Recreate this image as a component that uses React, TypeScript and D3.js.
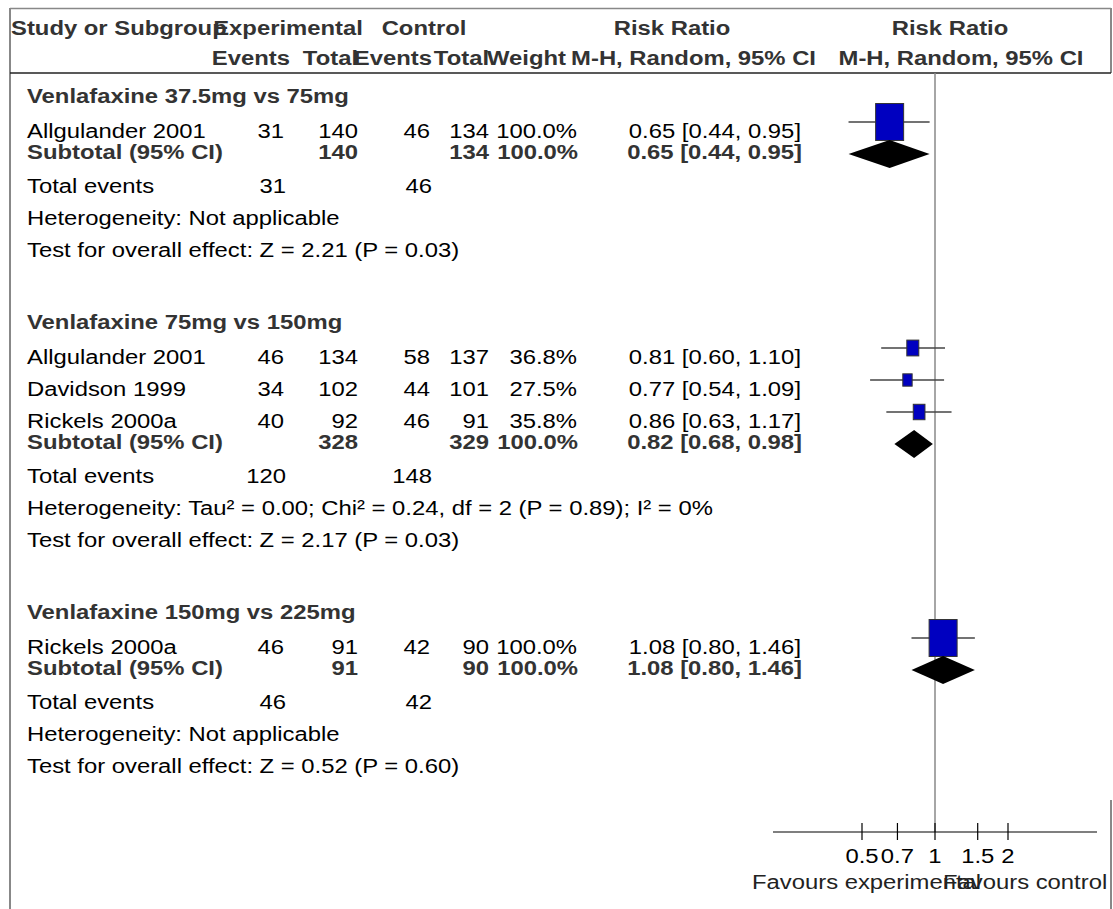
import React from "react";
import * as d3 from "d3";

// ---------- data ----------
const groupTitles = [
  "Venlafaxine 37.5mg vs 75mg",
  "Venlafaxine 75mg vs 150mg",
  "Venlafaxine 150mg vs 225mg",
];
const studyGroup = [0, 1, 1, 1, 2];
const studyNames = ["Allgulander 2001", "Allgulander 2001", "Davidson 1999", "Rickels 2000a", "Rickels 2000a"];
const expEvents = [31, 46, 34, 40, 46];
const expTotal = [140, 134, 102, 92, 91];
const ctrlEvents = [46, 58, 44, 46, 42];
const ctrlTotal = [134, 137, 101, 91, 90];
const studyWeight = [100.0, 36.8, 27.5, 35.8, 100.0];
const studyRR = [0.65, 0.81, 0.77, 0.86, 1.08];
const studyLow = [0.44, 0.6, 0.54, 0.63, 0.8];
const studyHigh = [0.95, 1.1, 1.09, 1.17, 1.46];

const subExpTotal = [140, 328, 91];
const subCtrlTotal = [134, 329, 90];
const subWeight = [100.0, 100.0, 100.0];
const subRR = [0.65, 0.82, 1.08];
const subLow = [0.44, 0.68, 0.8];
const subHigh = [0.95, 0.98, 1.46];
const totalExpEvents = [31, 120, 46];
const totalCtrlEvents = [46, 148, 42];
const heterogeneityTexts = [
  "Heterogeneity: Not applicable",
  "Heterogeneity: Tau² = 0.00; Chi² = 0.24, df = 2 (P = 0.89); I² = 0%",
  "Heterogeneity: Not applicable",
];
const overallTexts = [
  "Test for overall effect: Z = 2.21 (P = 0.03)",
  "Test for overall effect: Z = 2.17 (P = 0.03)",
  "Test for overall effect: Z = 0.52 (P = 0.60)",
];
const axisTicks = [0.5, 0.7, 1, 1.5, 2];
const axisTickLabels = ["0.5", "0.7", "1", "1.5", "2"];
const axisDomain = [0.2, 5];
const favoursLeft = "Favours experimental";
const favoursRight = "Favours control";

// ---------- layout ----------
const W = 1113;
const H = 909;
const FS = 21;
const SX = 1.135;
const FONT = "'Liberation Sans', Arial, Helvetica, sans-serif";
const BOLD_FILL = "#333";

const col = {
  name: 27,
  expEv: 284,
  expTot: 358,
  ctrlEv: 430,
  ctrlTot: 489,
  weight: 577,
  rr: 801,
};

const x = d3
  .scaleLog()
  .domain(axisDomain)
  .range([935 - 73 * Math.log2(5), 935 + 73 * Math.log2(5)]);

const fmt2 = d3.format(".2f");
const fmtW = (w: number) => d3.format(".1f")(w) + "%";
const rrText = (r: number, l: number, h: number) => `${fmt2(r)} [${fmt2(l)}, ${fmt2(h)}]`;

function T(props: any) {
  const { x, y, anchor = "start", bold = false, children, fill } = props;
  return (
    <text
      transform={`translate(${x},${y}) scale(${SX},1)`}
      textAnchor={anchor}
      fontWeight={bold ? "bold" : "normal"}
      fill={fill ?? (bold ? BOLD_FILL : "#000")}
      fontSize={FS}
      fontFamily={FONT}
    >
      {children}
    </text>
  );
}

function boxSize(weight: number) {
  const w = 28 * Math.pow(weight / 100, 0.85);
  return { w, h: w * 1.32 };
}

export default function App() {
  // rows: y = text centre, cy = mark centre
  type Row = { type: string; g: number; s?: number; y: number; cy?: number };
  const rows: Row[] = [];
  let grid = 122; // centre of first study mark
  groupTitles.forEach((title, g) => {
    rows.push({ type: "title", g, y: grid - 27 });
    const idx = studyGroup.map((gg, i) => (gg === g ? i : -1)).filter((i) => i >= 0);
    let last = grid;
    idx.forEach((s, j) => {
      const cy = grid + j * 32;
      rows.push({ type: "study", g, s, y: cy + 8, cy });
      last = cy;
    });
    rows.push({ type: "subtotal", g, y: last + 29, cy: last + 32 });
    rows.push({ type: "total", g, y: last + 63 });
    rows.push({ type: "het", g, y: last + 95 });
    rows.push({ type: "test", g, y: last + 127 });
    grid = last + 226;
  });

  const axisY = 832;
  const base = 7.5; // baseline offset from text centre

  return (
    <svg
      width={W}
      height={H}
      viewBox={`0 0 ${W} ${H}`}
      style={{ position: "absolute", left: 0, top: 0, background: "#fff" }}
    >
      <rect x={0} y={0} width={W} height={H} fill="#fff" />
      {/* frame */}
      <line x1={10} y1={8.5} x2={1111} y2={8.5} stroke="#888" strokeWidth={1.5} />
      <line x1={10} y1={8} x2={10} y2={H} stroke="#888" strokeWidth={2} />
      <line x1={1111} y1={8} x2={1111} y2={73} stroke="#888" strokeWidth={2} />
      <line x1={1111} y1={800} x2={1111} y2={H} stroke="#888" strokeWidth={2} />
      <line x1={10} y1={73} x2={1111} y2={73} stroke="#222" strokeWidth={1.5} />

      {/* header */}
      <T x={11} y={35} bold>Study or Subgroup</T>
      <T x={288} y={35} bold anchor="middle">Experimental</T>
      <T x={424} y={35} bold anchor="middle">Control</T>
      <T x={672} y={35} bold anchor="middle">Risk Ratio</T>
      <T x={950} y={35} bold anchor="middle">Risk Ratio</T>

      <T x={290} y={65} bold anchor="end">Events</T>
      <T x={col.expTot} y={65} bold anchor="end">Total</T>
      <T x={432} y={65} bold anchor="end">Events</T>
      <T x={489} y={65} bold anchor="end">Total</T>
      <T x={566} y={65} bold anchor="end">Weight</T>
      <T x={816} y={65} bold anchor="end">M-H, Random, 95% CI</T>
      <T x={961} y={65} bold anchor="middle">M-H, Random, 95% CI</T>

      {/* reference line */}
      <line x1={x(1)} y1={73} x2={x(1)} y2={axisY} stroke="#888" strokeWidth={1.5} />

      {rows.map((r, k) => {
        const by = r.y + base;
        if (r.type === "title")
          return (
            <T key={k} x={col.name} y={by} bold>
              {groupTitles[r.g]}
            </T>
          );
        if (r.type === "study") {
          const s = r.s as number;
          const cy = r.cy as number;
          const bs = boxSize(studyWeight[s]);
          return (
            <g key={k}>
              <T x={col.name} y={by}>{studyNames[s]}</T>
              <T x={col.expEv} y={by} anchor="end">{expEvents[s]}</T>
              <T x={col.expTot} y={by} anchor="end">{expTotal[s]}</T>
              <T x={col.ctrlEv} y={by} anchor="end">{ctrlEvents[s]}</T>
              <T x={col.ctrlTot} y={by} anchor="end">{ctrlTotal[s]}</T>
              <T x={col.weight} y={by} anchor="end">{fmtW(studyWeight[s])}</T>
              <T x={col.rr} y={by} anchor="end">{rrText(studyRR[s], studyLow[s], studyHigh[s])}</T>
              <line x1={x(studyLow[s])} y1={cy} x2={x(studyHigh[s])} y2={cy} stroke="#444" strokeWidth={1.5} />
              <rect
                x={x(studyRR[s]) - bs.w / 2}
                y={cy - bs.h / 2}
                width={bs.w}
                height={bs.h}
                fill="#0000c0"
                stroke="#333"
                strokeWidth={1}
              />
            </g>
          );
        }
        if (r.type === "subtotal") {
          const g = r.g;
          const cy = r.cy as number;
          const pts = [
            [x(subLow[g]), cy],
            [x(subRR[g]), cy - 14],
            [x(subHigh[g]), cy],
            [x(subRR[g]), cy + 14],
          ];
          return (
            <g key={k}>
              <T x={col.name} y={by} bold>Subtotal (95% CI)</T>
              <T x={col.expTot} y={by} anchor="end" bold>{subExpTotal[g]}</T>
              <T x={col.ctrlTot} y={by} anchor="end" bold>{subCtrlTotal[g]}</T>
              <T x={col.weight + 1} y={by} anchor="end" bold>{fmtW(subWeight[g])}</T>
              <T x={col.rr + 1} y={by} anchor="end" bold>{rrText(subRR[g], subLow[g], subHigh[g])}</T>
              <polygon points={pts.map((p) => p.join(",")).join(" ")} fill="#000" />
            </g>
          );
        }
        if (r.type === "total")
          return (
            <g key={k}>
              <T x={col.name} y={by}>Total events</T>
              <T x={col.expEv + 2} y={by} anchor="end">{totalExpEvents[r.g]}</T>
              <T x={col.ctrlEv + 2} y={by} anchor="end">{totalCtrlEvents[r.g]}</T>
            </g>
          );
        if (r.type === "het")
          return (
            <T key={k} x={col.name} y={by}>{heterogeneityTexts[r.g]}</T>
          );
        return (
          <T key={k} x={col.name} y={by}>{overallTexts[r.g]}</T>
        );
      })}

      {/* axis */}
      <line x1={x.range()[0] + 7.5} y1={axisY} x2={x.range()[1] - 7.5} y2={axisY} stroke="#000" strokeWidth={1.2} />
      {axisTicks.map((t, i) => (
        <g key={t}>
          <line x1={x(t)} y1={axisY - 9} x2={x(t)} y2={axisY + 8} stroke="#000" strokeWidth={1.2} />
          <T x={x(t)} y={863} anchor="middle">{axisTickLabels[i]}</T>
        </g>
      ))}
      <T x={752} y={889} fill="#222">{favoursLeft}</T>
      <T x={943} y={889} fill="#222">{favoursRight}</T>
    </svg>
  );
}
